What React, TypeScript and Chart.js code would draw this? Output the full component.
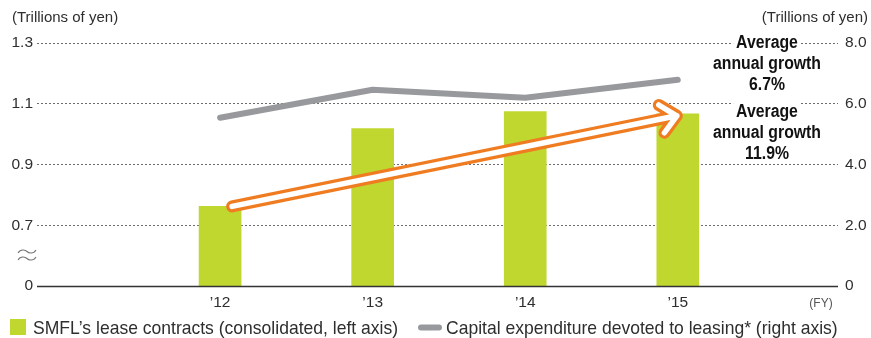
import React, { useEffect, useRef } from "react";
import { Chart, registerables } from "chart.js";

Chart.register(...registerables);

// ---- data ----
const years = [12, 13, 14, 15];
const yearLabels = ["’12", "’13", "’14", "’15"];
const leaseContracts = [0.762, 1.018, 1.074, 1.067]; // trillions of yen, left axis
const capex = [5.54, 6.46, 6.2, 6.79]; // trillions of yen, right axis
const leftTicks = [0.5, 0.7, 0.9, 1.1, 1.3]; // 0.5 stands for the broken-axis "0"
const leftTickLabels = ["0", "0.7", "0.9", "1.1", "1.3"];
const rightTicks = [0, 2, 4, 6, 8];
const rightTickLabels = ["0", "2.0", "4.0", "6.0", "8.0"];
const unitLabel = "(Trillions of yen)";
const fyLabel = "(FY)";
const capexGrowth = ["Average", "annual growth", "6.7%"];
const leaseGrowth = ["Average", "annual growth", "11.9%"];
const legendBar = "SMFL’s lease contracts (consolidated, left axis)";
const legendLine = "Capital expenditure devoted to leasing* (right axis)";

const GREEN = "#c0d72f";
const GRAY_LINE = "#98999d";
const ORANGE = "#f07c21";
const TEXT = "#2e2e2e";
const REG_FONT = "'Liberation Sans', Arial, sans-serif";
const BOLD_FONT = "'Liberation Sans', Arial, sans-serif";

function drawText(
  ctx: CanvasRenderingContext2D,
  text: string,
  x: number,
  y: number,
  font: string,
  align: CanvasTextAlign,
  sx: number,
  color: string,
  bg?: string
) {
  ctx.save();
  ctx.font = font;
  ctx.textBaseline = "alphabetic";
  const w = ctx.measureText(text).width * sx;
  let left = x;
  if (align === "center") left = x - w / 2;
  else if (align === "right") left = x - w;
  if (bg) {
    ctx.fillStyle = bg;
    ctx.fillRect(left - 3, y - 15, w + 6, 19);
  }
  ctx.translate(left, y);
  ctx.scale(sx, 1);
  ctx.textAlign = "left";
  ctx.fillStyle = color;
  ctx.fillText(text, 0, 0);
  ctx.restore();
}

const overlayPlugin = {
  id: "overlay",
  afterDatasetsDraw(chart: any) {
    const ctx = chart.ctx as CanvasRenderingContext2D;
    const x = chart.scales.x;
    const yL = chart.scales.yL;
    const area = chart.chartArea;

    // baseline
    ctx.save();
    ctx.strokeStyle = "#333";
    ctx.lineWidth = 1.5;
    ctx.beginPath();
    ctx.moveTo(area.left, Math.round(area.bottom) + 0.5);
    ctx.lineTo(area.right, Math.round(area.bottom) + 0.5);
    ctx.stroke();

    // growth arrow over the bars
    const sx = x.getPixelForValue(years[0]) + 12;
    const sy = yL.getPixelForValue(leaseContracts[0]);
    const ex = x.getPixelForValue(years[3]) - 1;
    const ey = yL.getPixelForValue(leaseContracts[3]) + 2;
    const ang = Math.atan2(ey - sy, ex - sx);
    const armLen = 21;
    const armAng = 0.74;
    const a1x = ex - armLen * Math.cos(ang - armAng);
    const a1y = ey - armLen * Math.sin(ang - armAng);
    const a2x = ex - armLen * Math.cos(ang + armAng);
    const a2y = ey - armLen * Math.sin(ang + armAng);
    const path = () => {
      ctx.beginPath();
      ctx.moveTo(sx, sy);
      ctx.lineTo(ex, ey);
      ctx.moveTo(a1x, a1y);
      ctx.lineTo(ex, ey);
      ctx.lineTo(a2x, a2y);
    };
    ctx.lineCap = "round";
    ctx.lineJoin = "round";
    path();
    ctx.strokeStyle = ORANGE;
    ctx.lineWidth = 12;
    ctx.stroke();
    path();
    ctx.strokeStyle = "#ffffff";
    ctx.lineWidth = 5.5;
    ctx.stroke();
    ctx.restore();
  },
  afterDraw(chart: any) {
    const ctx = chart.ctx as CanvasRenderingContext2D;

    // unit labels
    drawText(ctx, unitLabel, 12, 22, `15px ${REG_FONT}`, "left", 1, TEXT);
    drawText(ctx, unitLabel, 868, 22, `15px ${REG_FONT}`, "right", 1, TEXT);

    // axis break mark: two tildes
    ctx.save();
    ctx.strokeStyle = "#777";
    ctx.lineWidth = 1.1;
    [251.5, 258.5].forEach((yy) => {
      ctx.beginPath();
      ctx.moveTo(18, yy + 1.5);
      ctx.bezierCurveTo(21, yy - 3.5, 26, yy - 1, 27, yy);
      ctx.bezierCurveTo(28, yy + 1, 33, yy + 3.5, 36, yy - 1.5);
      ctx.stroke();
    });
    ctx.restore();

    // FY
    drawText(ctx, fyLabel, 821, 307, `12px ${REG_FONT}`, "center", 1, "#555");

    // growth annotations
    const bf = `bold 18px ${BOLD_FONT}`;
    ctx.save();
    ctx.font = bf;
    const bsx = 108 / ctx.measureText("annual growth").width;
    ctx.restore();
    const block = (lines: string[], ys: number[]) =>
      lines.forEach((t, i) => drawText(ctx, t, 767, ys[i], bf, "center", bsx, "#111", "#ffffff"));
    block(capexGrowth, [48, 69, 90]);
    block(leaseGrowth, [117, 138, 159]);

    // legend
    ctx.save();
    ctx.fillStyle = GREEN;
    ctx.fillRect(10, 319, 16, 16);
    ctx.strokeStyle = GRAY_LINE;
    ctx.lineWidth = 6;
    ctx.lineCap = "round";
    ctx.beginPath();
    ctx.moveTo(421, 327.5);
    ctx.lineTo(439, 327.5);
    ctx.stroke();
    ctx.font = `19px ${REG_FONT}`;
    const lsx = 365 / ctx.measureText(legendBar).width;
    ctx.restore();
    drawText(ctx, legendBar, 33, 334, `19px ${REG_FONT}`, "left", lsx, TEXT);
    drawText(ctx, legendLine, 446, 334, `19px ${REG_FONT}`, "left", lsx, TEXT);
  },
};

export default function App() {
  const ref = useRef<HTMLCanvasElement | null>(null);

  useEffect(() => {
    if (!ref.current) return;
    const tickFont = { size: 15.5, family: REG_FONT };
    const chart = new Chart(ref.current, {
      type: "bar",
      data: {
        datasets: [
          {
            type: "line",
            label: legendLine,
            data: years.map((y, i) => ({ x: y, y: capex[i] })),
            yAxisID: "yR",
            xAxisID: "x",
            borderColor: GRAY_LINE,
            borderWidth: 6,
            borderCapStyle: "round",
            borderJoinStyle: "round",
            pointRadius: 0,
            tension: 0,
            order: 0,
          } as any,
          {
            type: "bar",
            label: legendBar,
            data: years.map((y, i) => ({ x: y, y: leaseContracts[i] })),
            yAxisID: "yL",
            xAxisID: "x",
            backgroundColor: GREEN,
            barThickness: 42,
            order: 1,
          } as any,
        ],
      },
      options: {
        responsive: false,
        animation: false,
        devicePixelRatio: 1,
        layout: { padding: { top: 43, left: 0, right: 0, bottom: 0 } },
        plugins: { legend: { display: false }, tooltip: { enabled: false } },
        scales: {
          x: {
            type: "linear",
            offset: false,
            min: 10.8,
            max: 16.05,
            afterBuildTicks: (s: any) => {
              s.ticks = years.map((v) => ({ value: v }));
            },
            afterFit: (s: any) => {
              s.height = 52;
            },
            ticks: {
              autoSkip: false,
              maxRotation: 0,
              padding: 7,
              color: TEXT,
              font: tickFont,
              callback: (v: any) => yearLabels[years.indexOf(v)] ?? "",
            },
            grid: { display: false, offset: false, drawTicks: false },
            border: { display: false },
          },
          yL: {
            type: "linear",
            position: "left",
            min: 0.5,
            max: 1.3,
            afterBuildTicks: (s: any) => {
              s.ticks = leftTicks.map((v) => ({ value: v }));
            },
            afterFit: (s: any) => {
              s.width = 37;
            },
            ticks: {
              padding: 4,
              color: TEXT,
              font: tickFont,
              callback: (v: any) => {
                const i = leftTicks.findIndex((t) => Math.abs(t - v) < 1e-6);
                return i >= 0 ? leftTickLabels[i] : "";
              },
            },
            grid: {
              drawTicks: false,
              lineWidth: 1,
              color: (c: any) =>
                Math.abs(c.tick.value - 0.5) < 1e-6 ? "rgba(0,0,0,0)" : "#6d6d6d",
            },
            border: { display: false, dash: [2, 2] },
          },
          yR: {
            type: "linear",
            position: "right",
            min: 0,
            max: 8,
            afterBuildTicks: (s: any) => {
              s.ticks = rightTicks.map((v) => ({ value: v }));
            },
            afterFit: (s: any) => {
              s.width = 33;
            },
            ticks: {
              padding: 7,
              color: TEXT,
              font: tickFont,
              callback: (v: any) => {
                const i = rightTicks.indexOf(v);
                return i >= 0 ? rightTickLabels[i] : "";
              },
            },
            grid: { display: false, drawTicks: false },
            border: { display: false },
          },
        },
      } as any,
      plugins: [overlayPlugin],
    });
    return () => chart.destroy();
  }, []);

  return (
    <div style={{ position: "absolute", left: 0, top: 0, width: 871, height: 338, background: "#fff" }}>
      <canvas ref={ref} width={871} height={338} style={{ display: "block" }} />
    </div>
  );
}
